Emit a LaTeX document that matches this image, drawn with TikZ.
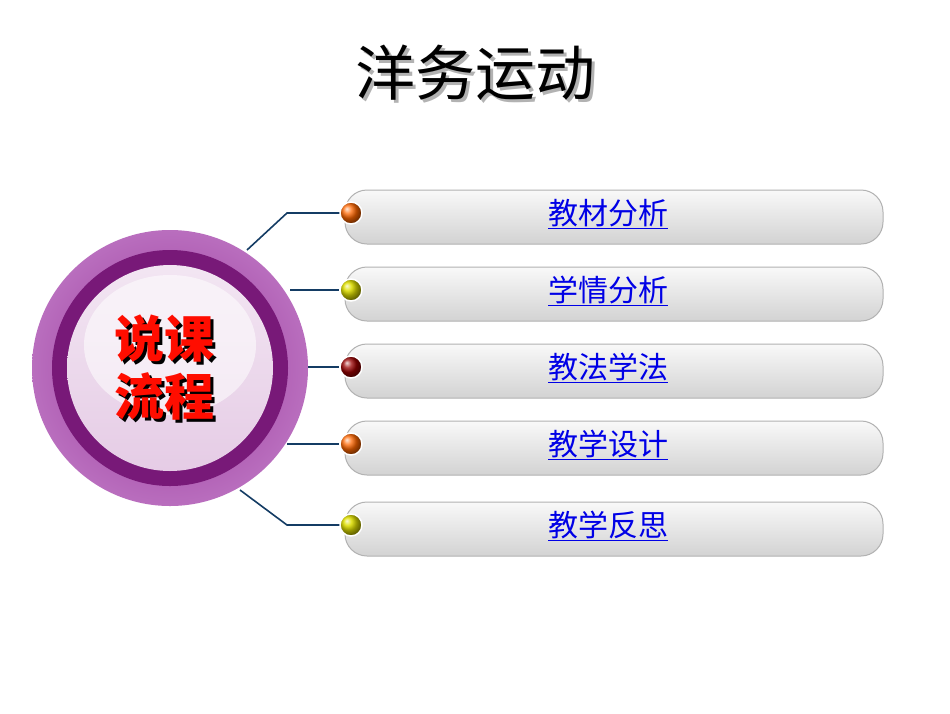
\documentclass[tikz,border=0pt]{standalone}
\usepackage{fontspec}
\newfontfamily\cjk{Noto Sans CJK SC}
\definecolor{linkblue}{RGB}{0,0,230}
\definecolor{conn}{RGB}{20,60,100}
\definecolor{ringout}{RGB}{185,110,190}
\definecolor{ringmid}{RGB}{150,50,150}
\definecolor{ringdark}{RGB}{120,25,120}
\tikzset{
 barbox/.style={draw=gray!60, line width=1pt, top color=white!95!gray, bottom color=gray!35, rounded corners=22pt, minimum width=538pt, minimum height=54pt, inner sep=0pt},
 lbl/.style={font=\cjk\fontsize{30}{30}\selectfont, text=linkblue},
 dot/.style={circle, draw=white, line width=1.5pt, minimum size=22pt, inner sep=0pt},
 wire/.style={draw=conn, line width=1.6pt}
}
\begin{document}
\begin{tikzpicture}[x=1pt,y=-1pt]
\useasboundingbox (0,0) rectangle (950,713);
\fill[white] (0,0) rectangle (950,713);
% title
\node[font=\cjk\fontsize{60}{60}\selectfont, text=gray!60] at (478,76) {洋务运动};
\node (title) [font=\cjk\fontsize{60}{60}\selectfont] at (475,73) {洋务运动};
% bars
\foreach \n/\y/\t/\c in {1/217/教材分析/orange!80!red, 2/294/学情分析/yellow!70!olive, 3/371/教法学法/red!60!black, 4/448/教学设计/orange!80!red, 5/529/教学反思/yellow!70!olive}{
  \node (bar\n) [barbox] at (614,\y) {};
  \node (lab\n) [lbl] at (608,\y-3) {\underline{\t}};
  \node (dot\n) [dot, ball color=\c] at (351,\y-4) {};
}
% circle
\node (c) [circle, minimum size=276pt, inner sep=0pt, shading=radial, inner color=ringmid, outer color=ringout] at (170,368) {};
\fill[ringdark] (170,368) circle (118);
\shade[top color=white!90!violet, bottom color=violet!20] (170,368) circle (103);
\fill[white, opacity=0.55] (170,345) ellipse (86 and 70);
\node[font=\cjk\bfseries\fontsize{50}{58}\selectfont, text=black, align=center] at (167,371) {说课\\流程};
\node (ctext) [font=\cjk\bfseries\fontsize{50}{58}\selectfont, text=red!90!orange, align=center] at (164,368) {说课\\流程};
% connectors
\coordinate (s1) at (247,250); \coordinate (s2) at (290,290); \coordinate (s3) at (308,367);
\coordinate (s4) at (287,444); \coordinate (s5) at (240,490);
\draw[wire] (s1) -- (287,213) -- (dot1.west);
\draw[wire] (s2) -- (dot2.west);
\draw[wire] (s3) -- (dot3.west);
\draw[wire] (s4) -- (dot4.west);
\draw[wire] (s5) -- (287,525) -- (dot5.west);
\end{tikzpicture}
\end{document}
